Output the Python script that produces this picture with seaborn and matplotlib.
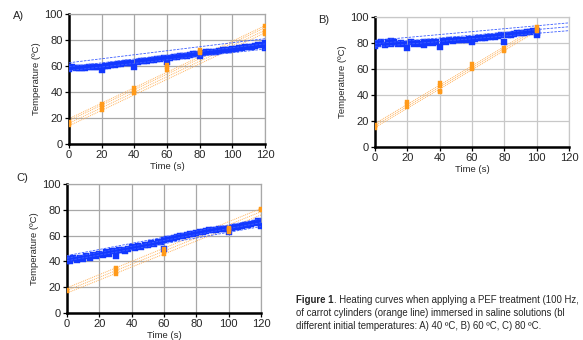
import matplotlib
matplotlib.use("Agg")
import matplotlib.pyplot as plt
import seaborn as sns
import pandas as pd

sns.set_theme(style="white")
plt.rcParams['font.family'] = ['Liberation Sans', 'DejaVu Sans']

# ---------------- data ----------------
# Panel A (40 ºC)
blue_t_A = list(range(0, 121, 2)) + [0, 20, 120]
blue_v_A = [59.5, 59, 58.5, 58.5, 58.5, 58.5, 59, 59, 59, 59.5,
            57, 60, 60, 60.5, 61, 61.5, 61.5, 62, 62.5, 62.5,
            59.5, 63, 63.5, 64, 64, 64.5, 65, 65.5, 65.5, 66,
            63, 66.5, 67, 67, 67.5, 68, 68, 68.5, 69, 69.5,
            68, 70, 70.5, 70.5, 71, 71, 71.5, 72, 72, 72.5,
            73, 73, 73.5, 74, 74.5, 75, 75, 75.5, 76, 76.5,
            78, 58, 59.5, 73.5]
orange_t_A = [0, 0, 0, 20, 20, 20, 40, 40, 40, 60, 60, 60, 80, 80, 80, 120, 120, 120]
orange_v_A = [15, 16, 17, 26, 29, 31, 39, 41, 43, 57, 59, 61, 70, 71, 72, 85, 87, 91]
blue_fit_t_A = [0, 120]
blue_fits_A = [(56.5, 73), (59.5, 77), (62.5, 81)]
orange_fit_t_A = [0, 120]
orange_fits_A = [(14, 85.5), (16, 87.5), (18, 89.5), (19.5, 91)]

# Panel B (60 ºC)
blue_t_B = list(range(0, 101, 2)) + [0, 10, 30, 100, 100]
blue_v_B = [80, 79, 81, 78.5, 80.5, 79, 81, 79, 80, 79.5,
            76, 80.5, 79, 80, 79.5, 80.5, 80, 81, 80, 81,
            77, 81.5, 81, 82, 81.5, 82, 82, 82.5, 82, 83,
            81, 83, 83.5, 84, 84, 84.5, 84.5, 85, 85.5, 86,
            80.5, 86, 86.5, 87, 87.5, 88, 88, 88.5, 88.5, 89,
            86, 78, 81.5, 78.5, 89, 88]
orange_t_B = [0, 0, 0, 20, 20, 20, 40, 40, 40, 40, 60, 60, 60, 80, 80, 80, 100, 100, 100]
orange_v_B = [15, 16, 17, 31, 33, 35, 42, 43, 47, 49, 60, 61, 64, 74, 75, 76, 89, 90, 92]
blue_fit_t_B = [0, 120]
blue_fits_B = [(77, 89.5), (79.5, 92.5), (82, 95.5)]
orange_fit_t_B = [0, 100]
orange_fits_B = [(15, 89), (16.5, 90.5), (18, 92)]

# Panel C (80 ºC)
blue_t_C = list(range(0, 121, 2)) + [0, 30, 60, 100]
blue_v_C = [42, 40.5, 42.5, 41, 43, 42, 44, 43, 45, 44.5,
            46, 45, 47, 46, 48, 44, 48.5, 49, 48, 50,
            51, 50.5, 52, 51.5, 53, 52.5, 54, 53.5, 55, 55,
            56.5, 57, 57.5, 58, 59, 59.5, 60, 60.5, 61, 61.5,
            62, 62.5, 63, 63.5, 64, 64, 64.5, 65, 65, 65.5,
            62.5, 66, 66.5, 67, 67.5, 68, 68, 69, 69.5, 71,
            67.5, 40, 48, 50, 65.5]
orange_t_C = [0, 0, 30, 30, 30, 30, 60, 60, 60, 100, 100, 100, 120, 120]
orange_v_C = [17, 18, 30, 32, 34, 35, 46, 48, 50, 63, 65, 66, 80, 81]
blue_fit_t_C = [0, 120]
blue_fits_C = [(40.5, 67), (42.5, 70), (44.5, 73)]
orange_fit_t_C = [0, 120]
orange_fits_C = [(15.5, 76), (17.5, 78.5), (19.5, 81)]

x_ticks = [0, 20, 40, 60, 80, 100, 120]
y_ticks = [0, 20, 40, 60, 80, 100]
panel_labels = ["A)", "B)", "C)"]
caption_lines = [
    ("Figure 1", ". Heating curves when applying a PEF treatment (100 Hz,"),
    ("", "of carrot cylinders (orange line) immersed in saline solutions (bl"),
    ("", "different initial temperatures: A) 40 \u00baC, B) 60 \u00baC, C) 80 \u00baC."),
]

BLUE = "#1238ff"
BLUE_LINE = "#3a5cff"
ORANGE = "#ff9a1a"
ORANGE_LINE = "#ffb25a"

fig = plt.figure(figsize=(5.83, 3.40), dpi=100)

def draw_panel(rect, bt, bv, ot, ov, bft, bfits, oft, ofits, gridcolor):
    ax = fig.add_axes(rect)
    for (y0, y1) in ofits:
        sns.lineplot(x=oft, y=[y0, y1], ax=ax, color=ORANGE_LINE, lw=0.7,
                     linestyle=(0, (1, 1)), estimator=None, zorder=2)
    sns.scatterplot(x=bt, y=bv, ax=ax, color=BLUE, marker="s", s=14,
                    edgecolor=BLUE, linewidth=0.3, zorder=3)
    for (y0, y1) in bfits:
        sns.lineplot(x=bft, y=[y0, y1], ax=ax, color=BLUE_LINE, lw=0.6,
                     linestyle=(0, (3, 1.5)), estimator=None, zorder=4)
    sns.scatterplot(x=ot, y=ov, ax=ax, color=ORANGE, marker="s", s=8,
                    edgecolor=ORANGE, linewidth=0.3, zorder=5)
    ax.set_xlim(0, 120)
    ax.set_ylim(0, 100)
    ax.set_xticks(x_ticks)
    ax.set_yticks(y_ticks)
    ax.grid(True, color=gridcolor, lw=0.9)
    ax.set_axisbelow(True)
    for s in ["top", "right"]:
        ax.spines[s].set_color(gridcolor)
        ax.spines[s].set_linewidth(0.9)
    for s in ["left", "bottom"]:
        ax.spines[s].set_color("black")
        ax.spines[s].set_linewidth(1.8)
    ax.tick_params(axis="both", which="major", direction="out", length=3,
                   width=0.9, color="black", labelsize=8, pad=1.5,
                   left=True, bottom=True)
    ax.set_xlabel("Time (s)", fontsize=6.8, labelpad=1)
    ax.set_ylabel("Temperature (\u00baC)", fontsize=6.8, labelpad=2)
    return ax

W, H = 583.0, 340.0
def rect(x0, x1, ytop, ybot):
    return [x0 / W, 1 - ybot / H, (x1 - x0) / W, (ybot - ytop) / H]

draw_panel(rect(69, 265, 14, 144), blue_t_A, blue_v_A, orange_t_A, orange_v_A,
           blue_fit_t_A, blue_fits_A, orange_fit_t_A, orange_fits_A, "#a8a8a8")
draw_panel(rect(375, 569, 17, 147), blue_t_B, blue_v_B, orange_t_B, orange_v_B,
           blue_fit_t_B, blue_fits_B, orange_fit_t_B, orange_fits_B, "#c8c8c8")
draw_panel(rect(67, 261, 184, 313), blue_t_C, blue_v_C, orange_t_C, orange_v_C,
           blue_fit_t_C, blue_fits_C, orange_fit_t_C, orange_fits_C, "#a8a8a8")

for lab, (px, py) in zip(panel_labels, [(13, 16), (318, 20), (16, 178)]):
    fig.text(px / W, 1 - py / H, lab, fontsize=8, ha="left", va="center")

# caption
cap_y = [300, 313, 326]
for (bold, rest), py in zip(caption_lines, cap_y):
    y = 1 - py / H
    if bold:
        t = fig.text(296 / W, y, bold, fontsize=6.9, fontweight="bold",
                     ha="left", va="center")
        fig.canvas.draw()
        bb = t.get_window_extent()
        fig.text(bb.x1 / W, y, rest, fontsize=6.9, ha="left", va="center")
    else:
        fig.text(296 / W, y, rest, fontsize=6.9, ha="left", va="center")

fig.savefig("out.png", dpi=100)
